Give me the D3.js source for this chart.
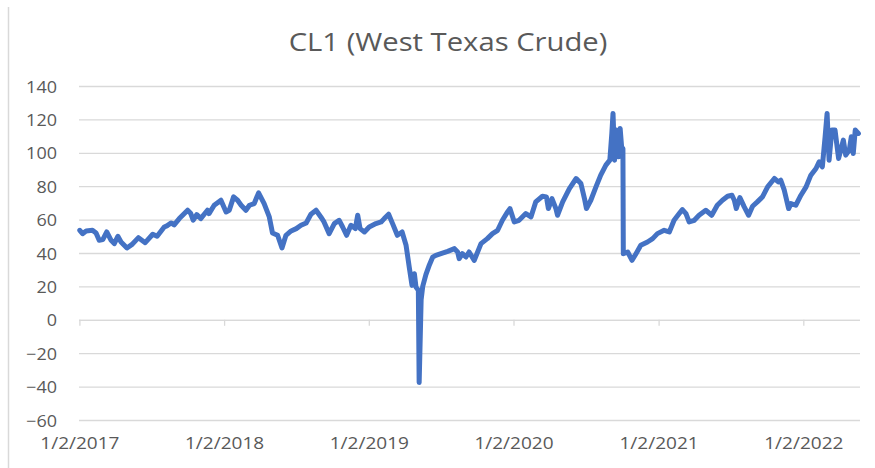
<!doctype html>
<html>
<head>
<meta charset="UTF-8">
<title>CL1 (West Texas Crude)</title>
<script src="https://cdn.jsdelivr.net/npm/d3@7"></script>
<style>
  body { margin: 0; background: #fff; }
  text { font-family: "Open Sans", sans-serif; fill: #595959; }
</style>
</head>
<body>
<svg id="chart" width="875" height="468"></svg>
<script>
// values
var title = "CL1 (West Texas Crude)";

var dates = [
  "2017-01-03","2017-01-10","2017-01-19","2017-02-04","2017-02-13","2017-02-21","2017-03-02","2017-03-12",
  "2017-03-23","2017-03-31","2017-04-09","2017-04-17","2017-05-02","2017-05-14","2017-05-31","2017-06-17",
  "2017-07-06","2017-07-17","2017-08-04","2017-08-12","2017-08-21","2017-08-29","2017-09-11","2017-10-02",
  "2017-10-10","2017-10-16","2017-10-25","2017-11-04","2017-11-21","2017-11-25","2017-12-08","2017-12-25",
  "2018-01-07","2018-01-15","2018-01-26","2018-02-05","2018-02-14","2018-02-26","2018-03-07","2018-03-19",
  "2018-03-30","2018-04-13","2018-04-26","2018-05-04","2018-05-17","2018-05-28","2018-06-07","2018-06-20",
  "2018-07-03","2018-07-15","2018-07-28","2018-08-09","2018-08-22","2018-09-03","2018-09-11","2018-09-24",
  "2018-10-07","2018-10-19","2018-10-28","2018-11-07","2018-11-18","2018-11-29","2018-12-05","2018-12-11",
  "2018-12-22","2019-01-03","2019-01-20","2019-02-02","2019-02-10","2019-02-21","2019-03-03","2019-03-15",
  "2019-03-27","2019-04-06","2019-04-14","2019-04-21","2019-04-27","2019-05-01","2019-05-07","2019-05-09",
  "2019-05-14","2019-05-18","2019-05-26","2019-06-04","2019-06-12","2019-06-20","2019-07-03","2019-07-20",
  "2019-08-06","2019-08-14","2019-08-18","2019-08-26","2019-09-04","2019-09-12","2019-09-25","2019-10-12",
  "2019-10-28","2019-11-10","2019-11-23","2019-12-05","2019-12-18","2019-12-24","2020-01-04","2020-01-16",
  "2020-02-02","2020-02-15","2020-02-27","2020-03-15","2020-03-25","2020-03-30","2020-04-08","2020-04-18",
  "2020-04-22","2020-05-05","2020-05-22","2020-06-08","2020-06-20","2020-06-29","2020-07-04","2020-07-15",
  "2020-07-28","2020-08-09","2020-08-22","2020-09-01","2020-09-06","2020-09-09","2020-09-13","2020-09-18",
  "2020-09-23","2020-09-27","2020-10-02","2020-10-04","2020-10-05","2020-10-16","2020-10-27","2020-11-06",
  "2020-11-18","2020-12-05","2020-12-18","2020-12-30","2021-01-16","2021-01-29","2021-02-10","2021-02-23",
  "2021-03-03","2021-03-12","2021-03-20","2021-04-02","2021-04-14","2021-05-01","2021-05-16","2021-05-30",
  "2021-06-12","2021-06-25","2021-07-06","2021-07-12","2021-07-17","2021-07-26","2021-08-06","2021-08-17",
  "2021-08-27","2021-09-08","2021-09-21","2021-10-04","2021-10-21","2021-10-31","2021-11-06","2021-11-15",
  "2021-11-26","2021-12-02","2021-12-14","2021-12-27","2022-01-09","2022-01-21","2022-02-03","2022-02-11",
  "2022-02-19","2022-02-26","2022-03-03","2022-03-08","2022-03-15","2022-03-23","2022-04-01","2022-04-13",
  "2022-04-19","2022-04-28","2022-05-03","2022-05-08","2022-05-13","2022-05-21"
];

var prices = [
  53.6, 51.6, 53.2, 53.6, 52.0, 47.6, 48.0, 52.6,
  47.6, 45.6, 50.0, 46.6, 43.0, 45.0, 49.2, 46.2,
  51.2, 50.0, 55.6, 56.4, 58.0, 56.8, 60.6, 65.6,
  63.6, 59.6, 63.0, 60.6, 65.6, 63.6, 68.6, 71.6,
  64.6, 65.6, 73.6, 71.6, 68.6, 65.6, 68.6, 69.6,
  76.0, 69.6, 61.6, 52.0, 50.6, 43.0, 50.6, 53.2,
  54.6, 56.6, 58.0, 63.2, 65.6, 61.6, 58.6, 51.6,
  57.6, 59.6, 55.6, 50.6, 56.6, 54.6, 62.6, 54.6,
  52.6, 55.6, 57.6, 58.6, 60.6, 63.2, 57.6, 50.6,
  52.6, 44.6, 31.6, 20.6, 27.6, 19.6, 17.6, -37.6,
  12.0, 20.0, 27.0, 33.0, 37.5, 38.6, 39.6, 41.0,
  42.6, 40.6, 36.6, 39.6, 37.6, 40.6, 35.6, 45.6,
  48.6, 51.6, 53.6, 59.6, 64.6, 66.6, 58.6, 59.6,
  63.6, 61.6, 70.6, 74.0, 73.6, 66.6, 72.6, 66.6,
  62.6, 70.6, 78.6, 84.6, 81.6, 72.6, 66.6, 71.6,
  79.6, 86.6, 92.6, 95.6, 111.6, 123.6, 95.6, 113.6,
  97.6, 114.6, 99.6, 102.6, 39.6, 40.6, 35.6, 39.6,
  44.6, 46.6, 48.6, 51.6, 53.6, 52.6, 59.6, 63.6,
  66.0, 63.6, 58.6, 59.6, 62.6, 65.6, 62.6, 68.6,
  71.6, 74.0, 74.6, 71.6, 66.6, 73.2, 67.6, 62.6,
  68.0, 70.6, 73.6, 79.6, 84.6, 82.6, 83.6, 77.6,
  66.6, 69.6, 68.6, 74.6, 79.6, 86.6, 90.6, 94.6,
  91.6, 109.6, 123.6, 95.6, 113.6, 113.6, 96.6, 107.6,
  98.6, 101.6, 109.6, 99.6, 113.6, 111.6
];

var yTicks = [-60, -40, -20, 0, 20, 40, 60, 80, 100, 120, 140];
var xTickDates = ["2017-01-02","2018-01-02","2019-01-02","2020-01-02","2021-01-02","2022-01-02"];
var xTickLabels = ["1/2/2017","1/2/2018","1/2/2019","1/2/2020","1/2/2021","1/2/2022"];
var xStart = "2017-01-01", xEnd = "2022-05-25";

var svg = d3.select("#chart"),
    plot = {left: 79, right: 860, top: 86, bottom: 420};

var parseTime = d3.timeParse("%Y-%m-%d");

var data = dates.map(function(d, i) { return {date: parseTime(d), value: prices[i]}; });

var x = d3.scaleTime()
    .domain([parseTime(xStart), parseTime(xEnd)])
    .range([plot.left, plot.right]);
var y = d3.scaleLinear()
    .domain([d3.min(yTicks), d3.max(yTicks)])
    .range([plot.bottom, plot.top]);

// faint frame edge on the left
svg.append("line")
    .attr("x1", 8.5).attr("x2", 8.5)
    .attr("y1", 7).attr("y2", 468)
    .attr("stroke", "#d9d9d9")
    .attr("stroke-width", 1.5);

// title
svg.append("text")
    .attr("transform", "translate(448,51) scale(1.17,1)")
    .attr("text-anchor", "middle")
    .style("font-size", "25px")
    .text(title);

// horizontal gridlines + y labels
var yAxis = d3.axisLeft(y)
    .tickValues(yTicks)
    .tickSize(-(plot.right - plot.left))
    .tickPadding(0)
    .tickFormat(d3.format("d"));

var gy = svg.append("g")
    .attr("transform", "translate(" + plot.left + ",0)")
    .call(yAxis);
gy.select(".domain").remove();
gy.selectAll(".tick line")
    .attr("stroke", "#d9d9d9")
    .attr("stroke-width", 1.3);
gy.selectAll(".tick text")
    .attr("x", null).attr("dy", null)
    .attr("transform", "translate(-22,6) scale(1.06,1)")
    .attr("text-anchor", "end")
    .attr("fill", "#595959")
    .style("font-family", "'Open Sans', sans-serif")
    .style("font-size", "17px");

// date axis sits on the zero line, labels at the bottom
var xAxis = d3.axisBottom(x)
    .tickValues(xTickDates.map(parseTime))
    .tickSize(6)
    .tickFormat(function(d, i) { return xTickLabels[i]; });

var gx = svg.append("g")
    .attr("transform", "translate(0," + y(0) + ")")
    .call(xAxis);
gx.select(".domain")
    .attr("d", "M" + plot.left + ",0.5H" + plot.right)
    .attr("stroke", "#d9d9d9")
    .attr("stroke-width", 1.3);
gx.selectAll(".tick line")
    .attr("stroke", "#d9d9d9")
    .attr("stroke-width", 1.3);
gx.selectAll(".tick text")
    .attr("y", null).attr("dy", null)
    .attr("transform", "translate(0," + (plot.bottom - y(0) + 29) + ") scale(1.12,1)")
    .attr("fill", "#595959")
    .style("font-family", "'Open Sans', sans-serif")
    .style("font-size", "17px");

// the series
var line = d3.line()
    .x(function(d) { return x(d.date); })
    .y(function(d) { return y(d.value); });

svg.append("path")
    .datum(data)
    .attr("d", line)
    .attr("fill", "none")
    .attr("stroke", "#4472c4")
    .attr("stroke-width", 5)
    .attr("stroke-linejoin", "round")
    .attr("stroke-linecap", "round");
</script>
</body>
</html>
